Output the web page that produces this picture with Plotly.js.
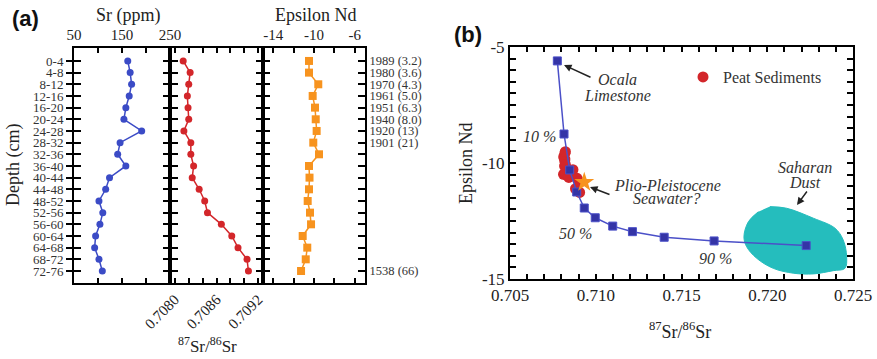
<!DOCTYPE html>
<html><head><meta charset="utf-8">
<script src="https://cdn.plot.ly/plotly-3.0.1.min.js"></script>
<style>html,body{margin:0;padding:0;background:#fff}#chart{width:877px;height:359px}</style>
</head><body><div id="chart"></div>
<script>
// ---------- data ----------
const depthLabels = ['0-4','4-8','8-12','12-16','16-20','20-24','24-28','28-32','32-36','36-40','40-44','44-48','48-52','52-56','56-60','60-64','64-68','68-72','72-76'];
const depthIndex = [0,1,2,3,4,5,6,7,8,9,10,11,12,13,14,15,16,17,18];
const srPpm = [162,167,170,165,158,154,191,146,141,158,124,116,102,110,104,95,93,102,109];
const srRatio = [0.70812,0.70822,0.70820,0.70818,0.70819,0.70820,0.70813,0.70823,0.70823,0.70827,0.70825,0.70835,0.70843,0.70847,0.70867,0.70882,0.70891,0.70904,0.70906];
const epsNd = [-10.49,-10.49,-9.58,-10.13,-9.90,-9.83,-9.74,-10.07,-9.51,-10.49,-10.44,-10.49,-10.62,-10.39,-10.29,-11.11,-10.66,-10.81,-11.27];
const ageLabels = ['1989 (3.2)','1980 (3.6)','1970 (4.3)','1961 (5.0)','1951 (6.3)','1940 (8.0)','1920 (13)','1901 (21)','','','','','','','','','','','1538 (66)'];

const srPpmTicks = [50,100,150,200,250];
const srPpmTickText = ['50','','150','','250'];
const srRatioTicks = [0.7080,0.7082,0.7084,0.7086,0.7088,0.7090,0.7092];
const srRatioTickText = ['0.7080','','','0.7086','','','0.7092'];
const ndTicksA = [-14,-12,-10,-8,-6];
const ndTickTextA = ['-14','','-10','','-6'];

const mixSr = [0.70776,0.70815,0.70848,0.70889,0.70933,0.70997,0.71099,0.71214,0.71399,0.71690,0.72227];
const mixNd = [-5.60,-8.75,-10.30,-11.25,-11.94,-12.36,-12.72,-12.96,-13.20,-13.36,-13.56];
const seaSr = [0.70933];
const seaNd = [-10.83];
const dustSr = [0.72016,0.72113,0.72269,0.72395,0.72443,0.72463,0.72453,0.72385,0.72269,0.72152,0.72035,0.71939,0.71880,0.71864,0.71890,0.71948];
const dustNd = [-11.88,-11.95,-12.38,-12.81,-13.32,-14.04,-14.54,-14.64,-14.78,-14.75,-14.54,-14.11,-13.61,-13.18,-12.53,-12.10];

const bxTicks = [];
for (let i = 0; i <= 20; i++) bxTicks.push(+(0.705 + i*0.001).toFixed(3));
const bxTickText = bxTicks.map(v => (Math.round(v*1000) % 5 === 0) ? v.toFixed(3) : '');
const byTicks = [];
for (let i = 0; i <= 20; i++) byTicks.push(-15 + i*0.5);
const byTickText = byTicks.map(v => (v % 5 === 0) ? String(v) : '');

// ---------- layout helpers ----------
const W = 877, H = 359;
const fx = p => p / W;
const fy = p => 1 - p / H;
const SERIF = 'Liberation Serif';
const SANS = 'Liberation Sans';

const cBlueA = '#3B4BC6', cRed = '#D3262A', cOrange = '#F7931E';
const cBlueB = '#3434A6', cBlueLine = '#4B50C8', cDust = '#25BDBD';

const traces = [
  {x: srPpm, y: depthIndex, xaxis:'x', yaxis:'y', mode:'lines+markers', type:'scatter',
   line:{color:cBlueA, width:1.5}, marker:{color:cBlueA, size:7, symbol:'circle'}, showlegend:false},
  {x: [150], y: [0], xaxis:'x', yaxis:'y4', mode:'markers', marker:{opacity:0}, showlegend:false, hoverinfo:'skip'},
  {x: srRatio, y: depthIndex, xaxis:'x2', yaxis:'y2', mode:'lines+markers', type:'scatter',
   line:{color:cRed, width:1.5}, marker:{color:cRed, size:7, symbol:'circle'}, showlegend:false},
  {x: epsNd, y: depthIndex, xaxis:'x3', yaxis:'y3', mode:'lines+markers', type:'scatter',
   line:{color:cOrange, width:1.5}, marker:{color:cOrange, size:8, symbol:'square'}, showlegend:false},
  // panel b
  {x: dustSr, y: dustNd, xaxis:'x5', yaxis:'y5', mode:'lines', fill:'toself', fillcolor:cDust,
   line:{color:cDust, width:1, shape:'spline'}, showlegend:false, hoverinfo:'skip'},
  {x: srRatio, y: epsNd, xaxis:'x5', yaxis:'y5', mode:'markers', name:'Peat Sediments',
   marker:{color:cRed, size:11, symbol:'circle'}, showlegend:true},
  {x: mixSr, y: mixNd, xaxis:'x5', yaxis:'y5', mode:'lines+markers', name:'mixing',
   line:{color:cBlueLine, width:1.5}, marker:{color:cBlueB, size:8, symbol:'square', line:{color:cBlueLine, width:1}}, showlegend:false},
  {x: seaSr, y: seaNd, xaxis:'x5', yaxis:'y5', mode:'markers', name:'seawater',
   marker:{color:cOrange, size:15, symbol:'star'}, showlegend:false}
];

const axBase = {showline:true, linewidth:2, linecolor:'#000', ticks:'inside', tickwidth:2, tickcolor:'#000',
  showgrid:false, zeroline:false, mirror:'ticks', fixedrange:true};
const yDom = [fy(283), fy(48)];
const yRange = [19.03, -1.11];

const layout = {
  width: W, height: H,
  margin: {l:0, r:0, t:0, b:0},
  paper_bgcolor: '#fff', plot_bgcolor: 'rgba(0,0,0,0)',
  font: {family: SERIF, color: '#222'},
  showlegend: true,
  legend: {x: fx(683), y: fy(77), xanchor:'left', yanchor:'middle', bgcolor:'rgba(0,0,0,0)',
           font:{family:SERIF, size:16, color:'#333'}},
  xaxis: Object.assign({}, axBase, {domain:[fx(74), fx(170)], anchor:'y', side:'top', range:[50,250],
    tickmode:'array', tickvals: srPpmTicks, ticktext: srPpmTickText, ticklen:5,
    tickfont:{family:SERIF, size:15, color:'#222'}}),
  yaxis: Object.assign({}, axBase, {domain:yDom, anchor:'x', range:yRange, ticks:'outside', ticklen:6,
    tickmode:'array', tickvals: depthIndex, ticktext: depthLabels,
    tickfont:{family:SERIF, size:13, color:'#333'}}),
  yaxis4: Object.assign({}, axBase, {overlaying:'y', anchor:'x', side:'left', range:yRange, ticklen:7,
    tickmode:'array', tickvals: depthIndex, showticklabels:false}),
  xaxis2: Object.assign({}, axBase, {domain:[fx(170), fx(263)], anchor:'y2', side:'bottom', range:[0.70793,0.70927],
    tickmode:'array', tickvals: srRatioTicks, ticktext: srRatioTickText, ticklen:5, tickangle:-45,
    tickfont:{family:SERIF, size:15, color:'#222'}}),
  yaxis2: Object.assign({}, axBase, {domain:yDom, anchor:'x2', range:yRange, ticklen:7,
    tickmode:'array', tickvals: depthIndex, showticklabels:false}),
  xaxis3: Object.assign({}, axBase, {domain:[fx(263), fx(365)], anchor:'y3', side:'top', range:[-15,-5],
    tickmode:'array', tickvals: ndTicksA, ticktext: ndTickTextA, ticklen:5,
    tickfont:{family:SERIF, size:15, color:'#222'}}),
  yaxis3: Object.assign({}, axBase, {domain:yDom, anchor:'x3', side:'right', range:yRange, ticklen:7,
    tickmode:'array', tickvals: depthIndex, ticktext: ageLabels,
    tickfont:{family:SERIF, size:12.5, color:'#333'}}),
  xaxis5: Object.assign({}, axBase, {domain:[fx(510), fx(853)], anchor:'y5', side:'bottom', range:[0.705,0.725],
    tickmode:'array', tickvals: bxTicks, ticktext: bxTickText, ticklen:5,
    tickfont:{family:SERIF, size:17, color:'#222'}}),
  yaxis5: Object.assign({}, axBase, {domain:[fy(279), fy(47)], anchor:'x5', range:[-15,-5], ticklen:6,
    tickmode:'array', tickvals: byTicks, ticktext: byTickText,
    tickfont:{family:SERIF, size:17, color:'#222'}}),
  annotations: []
};

function txt(t, x, y, size, opts) {
  return Object.assign({text:t, x:fx(x), y:fy(y), xref:'paper', yref:'paper', showarrow:false,
    xanchor:'center', yanchor:'middle', font:{family:SERIF, size:size, color:'#222'}}, opts || {});
}
function arrow(hx, hy, tx, ty) {
  return {text:'', x:fx(hx), y:fy(hy), xref:'paper', yref:'paper', showarrow:true,
    ax: tx - hx, ay: ty - hy, arrowhead:2, arrowsize:1, arrowwidth:1.5, arrowcolor:'#222', standoff:0};
}
const A = layout.annotations;
A.push(txt('<b>(a)</b>', 25, 18, 22, {font:{family:SANS, size:22, color:'#111'}}));
A.push(txt('<b>(b)</b>', 468, 35, 22, {font:{family:SANS, size:22, color:'#111'}}));
A.push(txt('Sr (ppm)', 128, 15, 18));
A.push(txt('Epsilon Nd', 316, 15, 18));
A.push(txt('Depth (cm)', 14, 165, 18, {textangle:-90}));
A.push(txt('<sup>87</sup>Sr/<sup>86</sup>Sr', 207, 345, 17));
A.push(txt('<sup>87</sup>Sr/<sup>86</sup>Sr', 680, 330, 18));
A.push(txt('Epsilon Nd', 466, 163, 18, {textangle:-90}));
const it = {font:{family:SERIF, size:16, color:'#333'}};
A.push(txt('<i>Ocala</i>', 617, 80, 16, it));
A.push(txt('<i>Limestone</i>', 617, 96, 16, it));
A.push(txt('<i>10 %</i>', 539, 136, 16, it));
A.push(txt('<i>Plio-Pleistocene</i>', 667, 185, 16, it));
A.push(txt('<i>Seawater?</i>', 667, 199, 16, it));
A.push(txt('<i>50 %</i>', 575, 233, 16, it));
A.push(txt('<i>90 %</i>', 715, 258, 16, it));
A.push(txt('<i>Saharan</i>', 805, 167, 16, it));
A.push(txt('<i>Dust</i>', 805, 182, 16, it));
A.push(arrow(564, 65, 592, 78));
A.push(arrow(590, 187, 611, 195));
A.push(arrow(797, 205, 808, 190));

Plotly.newPlot('chart', traces, layout, {staticPlot:true, displayModeBar:false});
</script>
</body></html>
